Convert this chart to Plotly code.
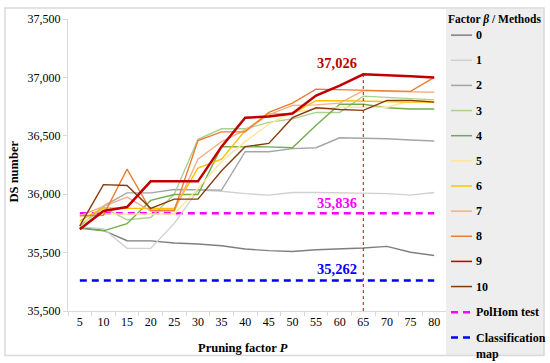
import plotly.graph_objects as go

# ---------------- data ----------------
pruning = [5, 10, 15, 20, 25, 30, 35, 40, 45, 50, 55, 60, 65, 70, 75, 80]
categories = [str(p) for p in pruning]

beta_0 = [35715, 35690, 35602, 35600, 35582, 35574, 35559, 35531, 35517, 35510, 35525, 35531, 35540, 35553, 35503, 35475]
beta_1 = [35720, 35705, 35536, 35536, 35750, 36035, 36025, 36005, 35992, 36015, 36015, 36012, 36008, 36005, 35992, 36015]
beta_2 = [35725, 35898, 36011, 36011, 36040, 36040, 36035, 36364, 36364, 36390, 36398, 36483, 36479, 36475, 36464, 36455]
beta_3 = [35729, 35884, 35780, 35800, 36000, 36470, 36560, 36560, 36615, 36645, 36700, 36700, 36840, 36828, 36820, 36808]
beta_4 = [35709, 35686, 35748, 35947, 35997, 35997, 36407, 36407, 36405, 36398, 36590, 36770, 36770, 36740, 36730, 36730]
beta_5 = [35757, 35830, 35830, 35830, 35830, 36050, 36280, 36450, 36600, 36700, 36730, 36745, 36745, 36745, 36800, 36800]
beta_6 = [35771, 35884, 35879, 35879, 35879, 36223, 36300, 36545, 36690, 36690, 36800, 36800, 36795, 36795, 36790, 36788]
beta_7 = [35815, 35898, 35975, 35856, 35856, 36300, 36450, 36550, 36680, 36760, 36765, 36780, 36887, 36880, 36878, 36873]
beta_8 = [35815, 35820, 36215, 35862, 35862, 36460, 36534, 36534, 36700, 36780, 36900, 36895, 36890, 36885, 36880, 37000]
beta_9 = [35700, 35856, 35890, 36110, 36110, 36110, 36407, 36655, 36665, 36690, 36845, 36930, 37026, 37015, 37010, 37000]
beta_10 = [35729, 36082, 36074, 35879, 35958, 35958, 36200, 36407, 36435, 36655, 36740, 36725, 36718, 36803, 36803, 36788]

polhom_value = 35836
classification_value = 35262

series_names = ["0", "1", "2", "3", "4", "5", "6", "7", "8", "9", "10"]
series_values = [beta_0, beta_1, beta_2, beta_3, beta_4, beta_5, beta_6, beta_7, beta_8, beta_9, beta_10]
series_colors = ["#7f7f7f", "#d0d0d0", "#a5a5a5", "#a9d18e", "#70ad47", "#ffe699",
                 "#ffc000", "#f4b183", "#ed7d31", "#c00000", "#843c0c"]

y_ticks = [35000, 35500, 36000, 36500, 37000, 37500]
y_tick_labels = ["35,500", "35,500", "36,000", "36,500", "37,000", "37,500"]

# ---------------- layout geometry (pixels) ----------------
W, H = 550, 363
L, R, T, B = 68, 446, 16, 311
SERIF = "Liberation Serif"


def px(x):
    return (x - L) / (R - L)


def py(y):
    return (B - y) / (B - T)


fig = go.Figure()

fig.add_trace(go.Scatter(
    x=categories, y=[polhom_value] * len(categories), mode="lines",
    line=dict(color="#ff00ff", width=2.5, dash="7px,5px"), showlegend=False))
fig.add_trace(go.Scatter(
    x=categories, y=[classification_value] * len(categories), mode="lines",
    line=dict(color="#0000ff", width=2.5, dash="7px,5px"), showlegend=False))

draw_order = [0, 1, 2, 3, 4, 5, 6, 7, 8, 10, 9]
for i in draw_order:
    fig.add_trace(go.Scatter(
        x=categories, y=series_values[i], mode="lines", name=series_names[i],
        line=dict(color=series_colors[i], width=2.5 if i == 9 else 1.4),
        showlegend=False, hoverinfo="skip"))

# vertical dotted marker at the best value
best_idx = beta_9.index(max(beta_9))
best_cat = categories[best_idx]
best_val = beta_9[best_idx]
fig.add_trace(go.Scatter(
    x=[best_cat, best_cat], y=[y_ticks[0], best_val], mode="lines",
    line=dict(color="#e00000", width=1, dash="dot"), showlegend=False))

annotations = []
for val, col, ysh in [(best_val, "#c00000", 1), (polhom_value, "#ff00ff", 0), (classification_value, "#0000ff", 1)]:
    annotations.append(dict(x=best_idx, y=val, xref="x", yref="y", text=f"<b>{val:,}</b>",
                            showarrow=False, xanchor="right", yanchor="bottom", xshift=-4, yshift=ysh,
                            font=dict(family=SERIF, size=14.5, color=col)))

# axis titles
annotations.append(dict(x=px(14), y=py(170), xref="paper", yref="paper", text="<b>DS number</b>",
                        textangle=-90, showarrow=False, xanchor="center", yanchor="middle",
                        font=dict(family=SERIF, size=12.5, color="black")))
annotations.append(dict(x=px(243), y=py(348), xref="paper", yref="paper",
                        text="<b>Pruning factor <i>P</i></b>", showarrow=False,
                        xanchor="center", yanchor="middle",
                        font=dict(family=SERIF, size=12.5, color="black")))

shapes = []
# legend panel
shapes.append(dict(type="rect", xref="paper", yref="paper", x0=px(446), x1=px(543.5), y0=py(6), y1=py(355.5),
                   line=dict(width=0), fillcolor="#eeeeee", layer="above"))
# outer frame
shapes.append(dict(type="rect", xref="paper", yref="paper", x0=px(5), x1=px(544), y0=py(5), y1=py(356),
                   line=dict(color="#d9d9d9", width=1.5), fillcolor="rgba(0,0,0,0)", layer="above"))

# legend title
annotations.append(dict(x=px(494.5), y=py(16), xref="paper", yref="paper",
                        text="<b>Factor <i>β</i> / Methods</b>", showarrow=False,
                        xanchor="center", yanchor="middle",
                        font=dict(family=SERIF, size=11.5, color="black")))

legend_y0 = 32.3
legend_step = 25.4
for i, (nm, col) in enumerate(zip(series_names, series_colors)):
    yy = legend_y0 + i * legend_step
    shapes.append(dict(type="line", xref="paper", yref="paper", x0=px(451), x1=px(472), y0=py(yy), y1=py(yy),
                       line=dict(color=col, width=1.5), layer="above"))
    annotations.append(dict(x=px(473.5), y=py(yy), xref="paper", yref="paper", text=f"<b>{nm}</b>",
                            showarrow=False, xanchor="left", yanchor="middle",
                            font=dict(family=SERIF, size=12, color="black")))

extra = [("PolHom test", "#ff00ff", 312.3), ("Classification<br>map", "#0000ff", 337.7)]
for nm, col, yy in extra:
    shapes.append(dict(type="line", xref="paper", yref="paper", x0=px(451), x1=px(472), y0=py(yy), y1=py(yy),
                       line=dict(color=col, width=2.5, dash="7px,5px"), layer="above"))
    annotations.append(dict(x=px(473.5), y=py(yy), xref="paper", yref="paper", text=f"<b>{nm}</b>",
                            showarrow=False, xanchor="left", yanchor="top" if "<br>" in nm else "middle",
                            yshift=8 if "<br>" in nm else 0, align="left",
                            font=dict(family=SERIF, size=12, color="black")))

fig.update_layout(
    width=W, height=H,
    margin=dict(l=L, r=W - R, t=T, b=H - B, pad=0),
    paper_bgcolor="white", plot_bgcolor="white",
    showlegend=False,
    xaxis=dict(type="category", range=[-0.5, len(categories) - 0.5], tickson="boundaries",
               ticks="outside", ticklen=4, tickcolor="#d9d9d9", showline=True, linecolor="#d9d9d9",
               linewidth=1, showgrid=False, zeroline=False,
               tickfont=dict(family=SERIF, size=12, color="black")),
    yaxis=dict(range=[y_ticks[0], y_ticks[-1]], tickvals=y_ticks, ticktext=y_tick_labels,
               ticks="outside", ticklen=4, tickcolor="#d9d9d9", showline=True, linecolor="#d9d9d9",
               linewidth=1, showgrid=False, zeroline=False,
               tickfont=dict(family=SERIF, size=12, color="black")),
    annotations=annotations,
    shapes=shapes,
)

fig.write_html("out.html", config={"displayModeBar": False},
               post_script="document.body.style.margin='0px';document.body.style.overflow='hidden';")
